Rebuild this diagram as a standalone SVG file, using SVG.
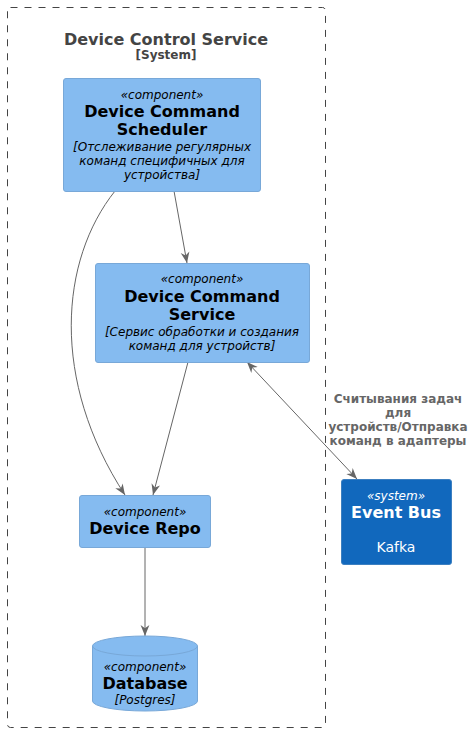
<svg xmlns="http://www.w3.org/2000/svg" width="474" height="733" viewBox="0 0 474 733">
<style>
text{font-family:"DejaVu Sans","Liberation Sans",sans-serif;text-anchor:middle}
.st{font-size:12px;font-style:italic}
.nm{font-size:16px;font-weight:bold}
.ds{font-size:12px;font-style:italic}
.comp{fill:#85BBF0;stroke:#78A8D8;stroke-width:1}
.ln{fill:none;stroke:#666666;stroke-width:1}
.lbl{font-size:12px;font-weight:bold;fill:#666666}
</style>
<defs>
<marker id="ah" viewBox="0 0 10 10" refX="10" refY="5" markerWidth="11" markerHeight="11" markerUnits="userSpaceOnUse" orient="auto-start-reverse">
<path d="M0,1 L10,5 L0,9 L3,5 Z" fill="#666666"/>
</marker>
</defs>
<g id="boundary">
<rect x="7.5" y="7.5" width="318" height="720" rx="3" fill="none" stroke="#444444" stroke-dasharray="7,7"/>
<text x="166" y="45" style="font-size:16px;font-weight:bold" fill="#444444">Device Control Service</text>
<text x="166" y="59" style="font-size:12px;font-weight:bold" fill="#444444">[System]</text>
</g>
<g id="connectors">
<path class="ln" d="M174,191 L187,263" marker-end="url(#ah)"/>
<path class="ln" d="M115,191 C60,260 50,380 125,495" marker-end="url(#ah)"/>
<path class="ln" d="M188,362 L153,495" marker-end="url(#ah)"/>
<path class="ln" d="M247,362 L357,479" marker-start="url(#ah)" marker-end="url(#ah)"/>
<path class="ln" d="M145,547 L145,636" marker-end="url(#ah)"/>
<text class="lbl" x="398" y="403">Считывания задач</text>
<text class="lbl" x="398" y="417">для</text>
<text class="lbl" x="398" y="431">устройств/Отправка</text>
<text class="lbl" x="398" y="445">команд в адаптеры</text>
</g>
<g id="scheduler">
<rect class="comp" x="63.5" y="78.5" width="197" height="113" rx="2.5"/>
<text class="st" x="162" y="99">«component»</text>
<text class="nm" x="162" y="117">Device Command</text>
<text class="nm" x="162" y="135">Scheduler</text>
<text class="ds" x="162" y="151">[Отслеживание регулярных</text>
<text class="ds" x="162" y="165">команд специфичных для</text>
<text class="ds" x="162" y="179">устройства]</text>
</g>
<g id="commandService">
<rect class="comp" x="95.5" y="263.5" width="214" height="99" rx="2.5"/>
<text class="st" x="202" y="283">«component»</text>
<text class="nm" x="202" y="302">Device Command</text>
<text class="nm" x="202" y="320">Service</text>
<text class="ds" x="202" y="336">[Сервис обработки и создания</text>
<text class="ds" x="202" y="350">команд для устройств]</text>
</g>
<g id="deviceRepo">
<rect class="comp" x="79.5" y="495.5" width="131" height="52" rx="2.5"/>
<text class="st" x="145" y="516">«component»</text>
<text class="nm" x="145" y="534">Device Repo</text>
</g>
<g id="eventBus">
<rect x="341.5" y="479.5" width="110" height="85" rx="2.5" fill="#1168BD" stroke="#3C7FC0"/>
<text class="st" x="396" y="500" fill="#FFFFFF">«system»</text>
<text class="nm" x="396" y="518" fill="#FFFFFF">Event Bus</text>
<text x="396" y="552" style="font-size:14px" fill="#FFFFFF">Kafka</text>
</g>
<g id="database">
<path class="comp" d="M92.5,646 A52.5,10 0 0 1 197.5,646 L197.5,701 A52.5,10 0 0 1 92.5,701 Z"/>
<path d="M92.5,646 A52.5,10 0 0 0 197.5,646" fill="none" stroke="#78A8D8"/>
<text class="st" x="145" y="671">«component»</text>
<text class="nm" x="145" y="689">Database</text>
<text class="ds" x="145" y="704">[Postgres]</text>
</g>
</svg>
